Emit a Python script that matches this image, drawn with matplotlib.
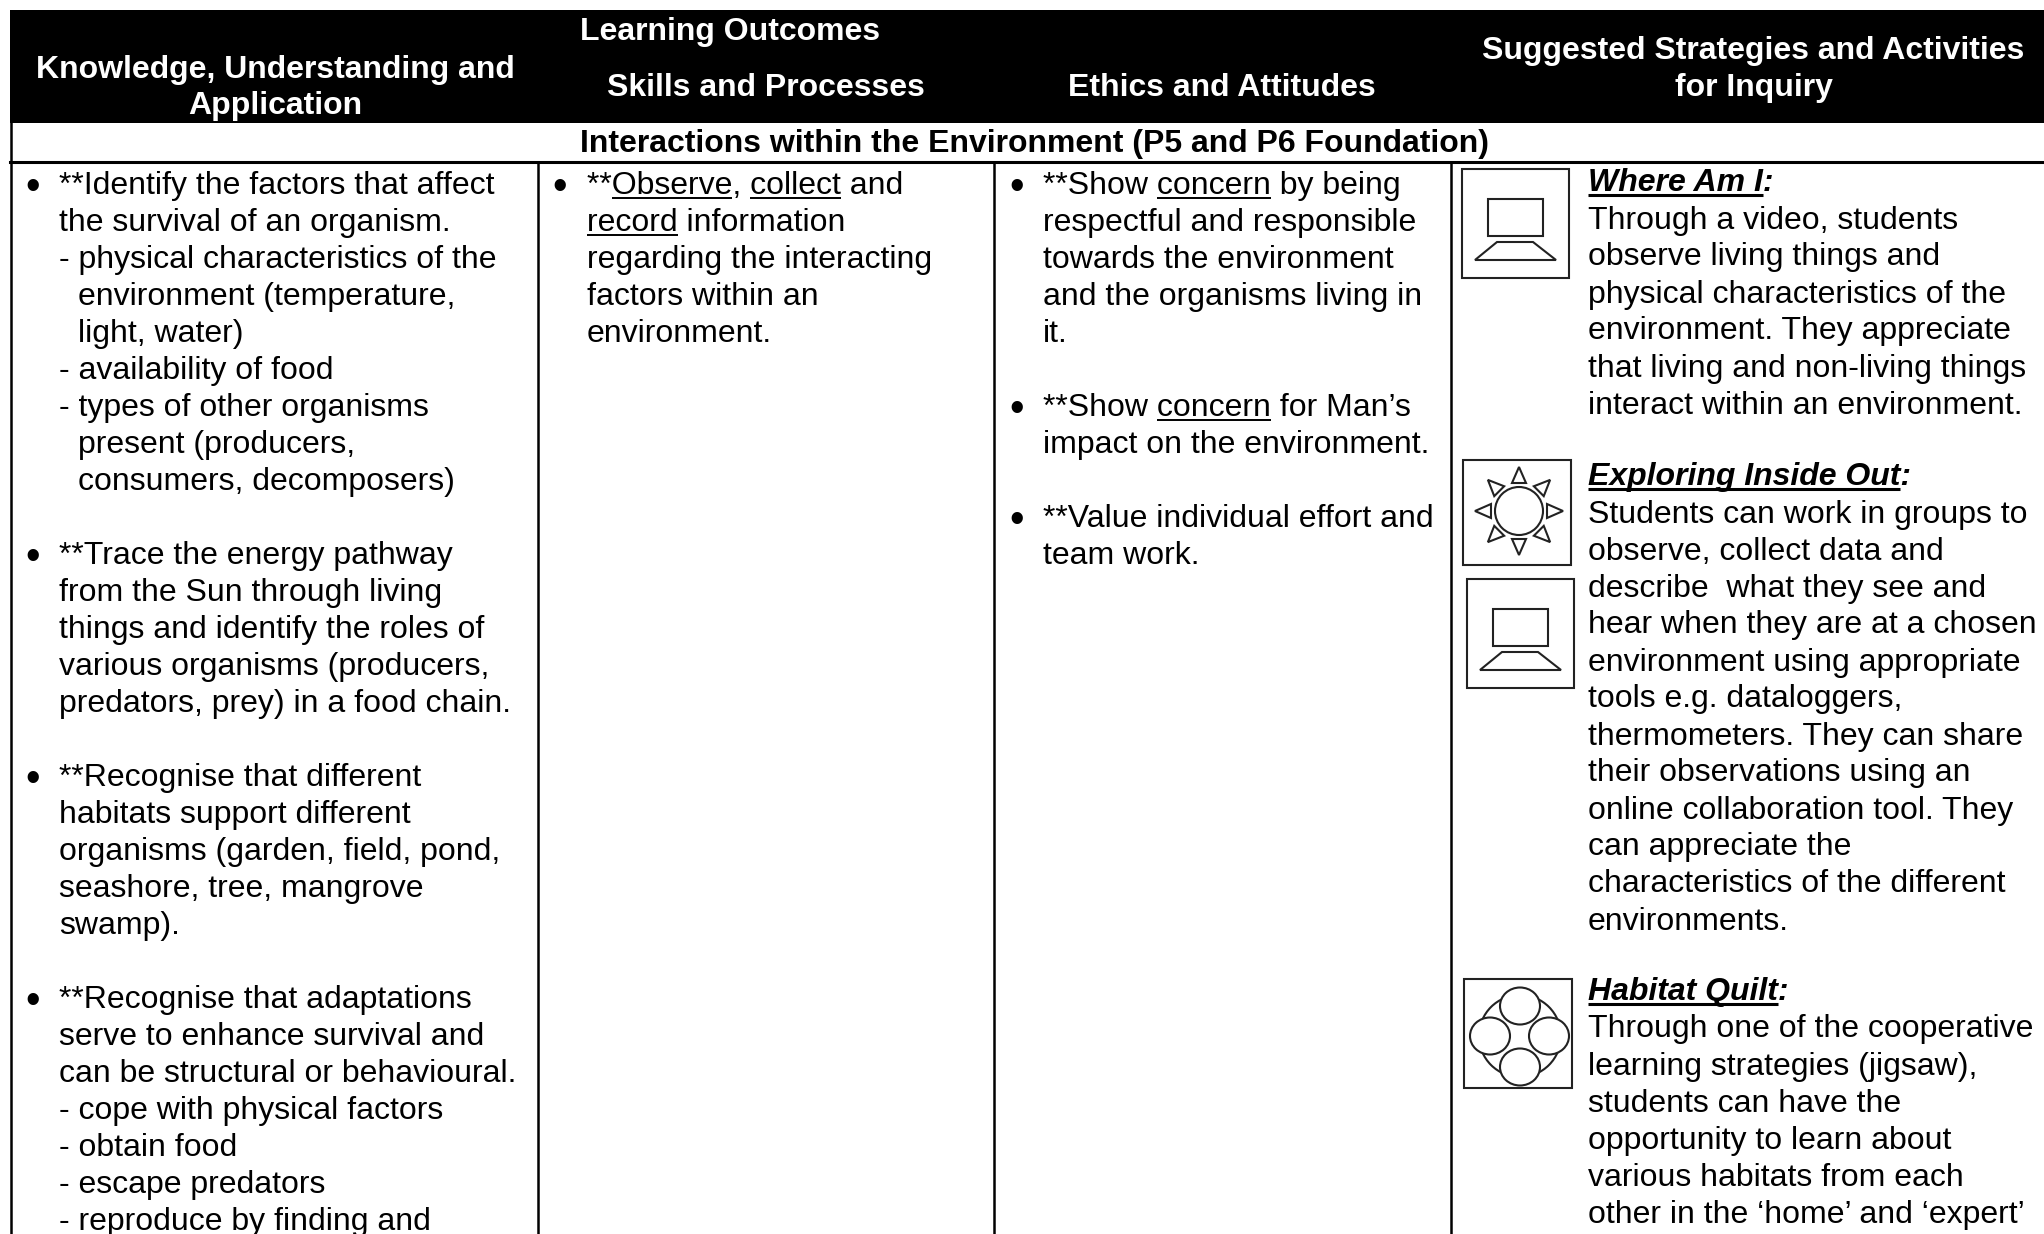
import numpy as np
import matplotlib
matplotlib.use("Agg")
import matplotlib.pyplot as plt
from matplotlib.patches import Rectangle, Circle, Ellipse, Polygon

plt.rcParams["font.family"] = ["Liberation Sans", "DejaVu Sans"]

W, H = 2044, 1234
FS = 23.0
LINE = 37.0

# table text, "_" marks underlined words, leading ">" is a hanging indent, "" skips a row
knowledge = [
    "*", "**Identify the factors that affect", "the survival of an organism.",
    "- physical characteristics of the", ">environment (temperature,", ">light, water)",
    "- availability of food", "- types of other organisms", ">present (producers,",
    ">consumers, decomposers)", "",
    "*", "**Trace the energy pathway", "from the Sun through living", "things and identify the roles of",
    "various organisms (producers,", "predators, prey) in a food chain.", "",
    "*", "**Recognise that different", "habitats support different", "organisms (garden, field, pond,",
    "seashore, tree, mangrove", "swamp).", "",
    "*", "**Recognise that adaptations", "serve to enhance survival and", "can be structural or behavioural.",
    "- cope with physical factors", "- obtain food", "- escape predators", "- reproduce by finding and",
]
skills = [
    "*", "**_Observe_, _collect_ and", "_record_ information", "regarding the interacting",
    "factors within an", "environment.",
]
ethics = [
    "*", "**Show _concern_ by being", "respectful and responsible", "towards the environment",
    "and the organisms living in", "it.", "",
    "*", "**Show _concern_ for Man\u2019s", "impact on the environment.", "",
    "*", "**Value individual effort and", "team work.",
]
where_title = "Where Am I"
where_body = [
    "Through a video, students", "observe living things and", "physical characteristics of the",
    "environment. They appreciate", "that living and non-living things", "interact within an environment.",
]
explore_title = "Exploring Inside Out"
explore_body = [
    "Students can work in groups to", "observe, collect data and", "describe  what they see and",
    "hear when they are at a chosen", "environment using appropriate", "tools e.g. dataloggers,",
    "thermometers. They can share", "their observations using an", "online collaboration tool. They",
    "can appreciate the", "characteristics of the different", "environments.",
]
quilt_title = "Habitat Quilt"
quilt_body = [
    "Through one of the cooperative", "learning strategies (jigsaw),", "students can have the",
    "opportunity to learn about", "various habitats from each", "other in the \u2018home\u2019 and \u2018expert\u2019",
]
headers = [
    ("Knowledge, Understanding and", 275, 78), ("Application", 275, 114),
    ("Learning Outcomes", 730, 40), ("Skills and Processes", 766, 96),
    ("Ethics and Attitudes", 1222, 96),
    ("Suggested Strategies and Activities", 1753, 59), ("for Inquiry", 1754, 96),
]
band_title = "Interactions within the Environment (P5 and P6 Foundation)"

fig = plt.figure(figsize=(W / 100, H / 100), dpi=100, facecolor="white")
ax = fig.add_axes([0, 0, 1, 1])
ax.set_xlim(0, W)
ax.set_ylim(H, 0)
ax.axis("off")
rend = fig.canvas.get_renderer()


def text_w(s, **kw):
    # width with trailing spaces counted
    t = ax.text(0, 0, s + "x", fontsize=FS, **kw)
    t2 = ax.text(0, 0, "x", fontsize=FS, **kw)
    w = t.get_window_extent(rend).width - t2.get_window_extent(rend).width
    t.remove()
    t2.remove()
    return w


def draw_line(x, y, s):
    parts = s.split("_")
    plain = "".join(parts)
    ax.text(x, y, plain, fontsize=FS, va="baseline", ha="left", color="black")
    pos = ""
    for i, p in enumerate(parts):
        if i % 2 == 1:
            x0 = x + text_w(pos)
            ax.plot([x0, x0 + text_w(p)], [y + 4, y + 4], color="black", lw=1.4, solid_capstyle="butt")
        pos += p


def draw_col(lines, x, y0, bullet_x):
    row = 0
    for s in lines:
        if s == "*":
            ax.text(bullet_x, y0 + row * LINE + 5, "\u2022", fontsize=30, va="baseline", ha="center")
            continue
        if s.startswith(">"):
            draw_line(x + 19, y0 + row * LINE, s[1:])
        else:
            draw_line(x, y0 + row * LINE, s)
        row += 1


def draw_section(title, body, x, y0):
    ax.text(x, y0, title + ":", fontsize=FS, fontweight="bold", fontstyle="italic", va="baseline")
    w = text_w(title, fontweight="bold", fontstyle="italic")
    ax.plot([x, x + w], [y0 + 4, y0 + 4], color="black", lw=2.2, solid_capstyle="butt")
    for i, s in enumerate(body):
        ax.text(x, y0 + 37.5 + i * LINE, s, fontsize=FS, va="baseline")


def box(x0, y0, x1, y1):
    ax.add_patch(Rectangle((x0, y0), x1 - x0, y1 - y0, fc="white", ec="#222222", lw=1.5, zorder=2))


def computer(x0, y0):
    box(x0, y0, x0 + 107, y0 + 109)
    ax.add_patch(Rectangle((x0 + 26, y0 + 30), 55, 37, fc="none", ec="#222222", lw=1.5, zorder=3))
    ax.add_patch(Polygon([(x0 + 13, y0 + 91), (x0 + 35, y0 + 73), (x0 + 71, y0 + 73), (x0 + 94, y0 + 91)],
                         closed=True, fc="none", ec="#222222", lw=1.5, zorder=3))


# header band and table rules
ax.add_patch(Rectangle((10, 10), W - 10, 113, fc="black", ec="none"))
ax.plot([10, W], [162, 162], color="black", lw=2.2)
ax.plot([10.5, 10.5], [123, H], color="black", lw=1.8)
for vx in [538, 994, 1451]:
    ax.plot([vx, vx], [162, H], color="black", lw=1.8)

for s, x, y in headers:
    ax.text(x, y, s, fontsize=FS, fontweight="bold", color="white", ha="center", va="baseline")
ax.text(1034, 152, band_title, fontsize=FS, fontweight="bold", ha="center", va="baseline")

draw_col(knowledge, 59, 194, 33)
draw_col(skills, 587, 194, 560)
draw_col(ethics, 1043, 194, 1017)

draw_section(where_title, where_body, 1588, 191)
draw_section(explore_title, explore_body, 1588, 485)
draw_section(quilt_title, quilt_body, 1588, 1000)

# icons
computer(1462, 169)
computer(1467, 579)

box(1463, 460, 1571, 565)
cx, cy = 1519, 511
ax.add_patch(Circle((cx, cy), 24, fc="white", ec="#222222", lw=1.5, zorder=3))
for ang in np.arange(0, 360, 45):
    a = np.deg2rad(ang)
    d = np.array([np.cos(a), np.sin(a)])
    n = np.array([-d[1], d[0]])
    c = np.array([cx, cy])
    ax.add_patch(Polygon([c + d * 44, c + d * 28 + n * 7, c + d * 28 - n * 7], closed=True,
                         fc="none", ec="#222222", lw=1.5, zorder=3))

box(1464, 979, 1572, 1088)
ax.add_patch(Circle((1520, 1036), 41, fc="none", ec="#222222", lw=1.5, zorder=3))
for ex, ey in [(1520, 1006), (1490, 1036), (1549, 1036), (1520, 1067)]:
    ax.add_patch(Ellipse((ex, ey), 40, 37, fc="white", ec="#222222", lw=1.5, zorder=4))

fig.savefig("out.png", dpi=100, facecolor="white")
